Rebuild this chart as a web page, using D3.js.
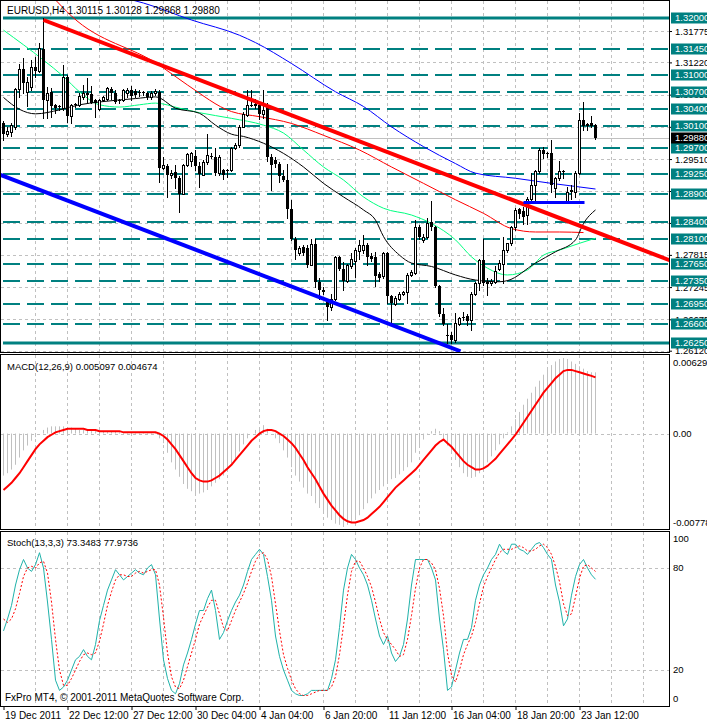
<!DOCTYPE html>
<html><head><meta charset="utf-8">
<script src="https://cdn.jsdelivr.net/npm/d3@7"></script>
<style>
body{margin:0;background:#fff}
svg{display:block}
text{font-family:"Liberation Sans",Arial,sans-serif;font-size:9.5px}
</style>
</head><body>
<svg id="c" width="707" height="723"></svg>
<script>
// ---------------- DATA ----------------
const barOpen=[1.3014,1.2996,1.2999,1.3008,1.3075,1.3110,1.3070,1.3079,1.3114,1.3107,
1.3145,1.3055,1.3070,1.3046,1.3043,1.3042,1.3097,1.3027,1.3046,1.3047,
1.3061,1.3067,1.3066,1.3055,1.3039,1.3056,1.3057,1.3075,1.3068,1.3053,
1.3056,1.3068,1.3073,1.3071,1.3067,1.3068,1.3067,1.3060,1.3067,1.3070,
1.2936,1.2939,1.2922,1.2928,1.2918,1.2890,1.2940,1.2947,1.2956,1.2939,
1.2923,1.2945,1.2957,1.2955,1.2926,1.2932,1.2931,1.2932,1.2970,1.2976,
1.3008,1.3029,1.3045,1.3048,1.3046,1.3031,1.3046,1.2954,1.2949,1.2943,
1.2921,1.2914,1.2862,1.2810,1.2785,1.2795,1.2793,1.2764,1.2800,1.2734,
1.2720,1.2701,1.2689,1.2704,1.2777,1.2757,1.2736,1.2762,1.2770,1.2789,
1.2790,1.2799,1.2779,1.2777,1.2748,1.2745,1.2784,1.2708,1.2695,1.2704,
1.2712,1.2715,1.2746,1.2749,1.2830,1.2807,1.2814,1.2839,1.2830,1.2726,
1.2677,1.2640,1.2640,1.2631,1.2660,1.2669,1.2673,1.2666,1.2713,1.2731,
1.2772,1.2734,1.2731,1.2734,1.2757,1.2766,1.2790,1.2802,1.2831,1.2862,
1.2860,1.2852,1.2881,1.2905,1.2929,1.2967,1.2961,1.2961,1.2899,1.2917,
1.2930,1.2876,1.2896,1.2893,1.2926,1.3020,1.3013,1.3014,1.30115];
const barHigh=[1.3018,1.3008,1.3014,1.3077,1.3120,1.3129,1.3097,1.3126,1.3132,1.3156,
1.3200,1.3079,1.3076,1.3049,1.3046,1.3117,1.3100,1.3048,1.3051,1.3067,
1.3082,1.3094,1.3080,1.3058,1.3057,1.3062,1.3079,1.3078,1.3073,1.3058,
1.3075,1.3077,1.3080,1.3075,1.3074,1.3072,1.3070,1.3071,1.3075,1.3073,
1.2955,1.2942,1.2931,1.2940,1.2921,1.2942,1.2962,1.2964,1.2967,1.2946,
1.2949,1.2996,1.2961,1.2970,1.2958,1.2933,1.2934,1.2973,1.2979,1.3011,
1.3035,1.3073,1.3074,1.3057,1.3049,1.3073,1.3050,1.2960,1.2955,1.2946,
1.2932,1.2943,1.2878,1.2813,1.2797,1.2799,1.2799,1.2810,1.2810,1.2740,
1.2725,1.2704,1.2713,1.2779,1.2779,1.2769,1.2766,1.2784,1.2793,1.2808,
1.2817,1.2802,1.2784,1.2787,1.2751,1.2787,1.2787,1.2711,1.2708,1.2715,
1.2718,1.2749,1.2755,1.2843,1.2835,1.2819,1.2846,1.2877,1.2833,1.2728,
1.2687,1.2660,1.2645,1.2679,1.2672,1.2681,1.2677,1.2716,1.2734,1.2775,
1.2809,1.2740,1.2738,1.2761,1.2772,1.2814,1.2803,1.2832,1.2864,1.2865,
1.2867,1.2884,1.2926,1.2932,1.2970,1.2972,1.2964,1.2985,1.2920,1.2948,
1.2932,1.2902,1.2905,1.2929,1.3032,1.3052,1.3014,1.3027,1.30128];
const barLow=[1.2985,1.2992,1.2992,1.3005,1.3060,1.3067,1.3044,1.3073,1.3097,1.3105,
1.3023,1.3023,1.3026,1.3032,1.3038,1.3038,1.3017,1.3015,1.3043,1.3044,
1.3058,1.3052,1.3050,1.3025,1.3038,1.3053,1.3056,1.3058,1.3051,1.3050,
1.3054,1.3060,1.3056,1.3060,1.3062,1.3065,1.3058,1.3057,1.3064,1.2911,
1.2934,1.2884,1.2917,1.2899,1.2857,1.2889,1.2938,1.2938,1.2932,1.2902,
1.2922,1.2943,1.2952,1.2923,1.2923,1.2915,1.2920,1.2929,1.2968,1.2973,
1.3007,1.3027,1.3044,1.3042,1.3021,1.3023,1.2948,1.2896,1.2937,1.2911,
1.2913,1.2846,1.2808,1.2775,1.2781,1.2781,1.2760,1.2763,1.2725,1.2703,
1.2713,1.2666,1.2684,1.2702,1.2755,1.2719,1.2734,1.2758,1.2743,1.2775,
1.2784,1.2763,1.2770,1.2726,1.2736,1.2740,1.2696,1.2660,1.2693,1.2701,
1.2710,1.2696,1.2744,1.2748,1.2810,1.2805,1.2812,1.2826,1.2724,1.2674,
1.2657,1.2625,1.2625,1.2628,1.2657,1.2666,1.2657,1.2648,1.2710,1.2719,
1.2728,1.2710,1.2728,1.2732,1.2755,1.2732,1.2787,1.2799,1.2825,1.2846,
1.2837,1.2837,1.2873,1.2873,1.2927,1.2952,1.2955,1.2893,1.2884,1.2914,
1.2917,1.2873,1.2881,1.2884,1.2925,1.3002,1.3002,1.3007,1.29868];
const barClose=[1.2996,1.3001,1.3011,1.3075,1.3110,1.3085,1.3088,1.3113,1.3106,1.3147,
1.3055,1.3068,1.3044,1.3041,1.3044,1.3097,1.3027,1.3046,1.3048,1.3062,
1.3067,1.3064,1.3051,1.3050,1.3055,1.3060,1.3076,1.3067,1.3052,1.3056,
1.3073,1.3074,1.3063,1.3064,1.3070,1.3069,1.3060,1.3068,1.3071,1.2936,
1.2940,1.2923,1.2927,1.2917,1.2890,1.2940,1.2960,1.2961,1.2938,1.2925,
1.2945,1.2958,1.2955,1.2926,1.2954,1.2923,1.2932,1.2970,1.2976,1.3008,
1.3031,1.3047,1.3047,1.3044,1.3031,1.3038,1.2954,1.2940,1.2942,1.2921,
1.2914,1.2862,1.2810,1.2791,1.2793,1.2785,1.2763,1.2800,1.2734,1.2719,
1.2716,1.2690,1.2704,1.2777,1.2757,1.2736,1.2763,1.2774,1.2790,1.2799,
1.2799,1.2777,1.2775,1.2745,1.2740,1.2784,1.2708,1.2696,1.2705,1.2712,
1.2716,1.2746,1.2752,1.2830,1.2813,1.2813,1.2838,1.2831,1.2726,1.2677,
1.2660,1.2640,1.2631,1.2661,1.2669,1.2671,1.2665,1.2713,1.2731,1.2772,
1.2731,1.2730,1.2736,1.2753,1.2767,1.2791,1.2802,1.2831,1.2861,1.2854,
1.2848,1.2881,1.2905,1.2929,1.2967,1.2960,1.2960,1.2905,1.2917,1.2930,
1.2928,1.2893,1.2893,1.2926,1.3020,1.3009,1.3009,1.3009,1.29880];

// moving averages: [bar, price]
const maBlue=[[24,1.3245],[35,1.3227],[47,1.3197],[59,1.3170],[63,1.3157],[72,1.3120],[83,1.3070],[90,1.3044],[97,1.3008],[105,1.2973],[113,1.2943],[118,1.2926],[128,1.2917],[137,1.2908],[148,1.2898]];
const maRed=[[12,1.3240],[17,1.3204],[39,1.3117],[46,1.3082],[57,1.3035],[64,1.3026],[72,1.3014],[80,1.2993],[89,1.2967],[97,1.2937],[105,1.2908],[113,1.2879],[120,1.2855],[127,1.2828],[133,1.2822],[139,1.2822],[145,1.2821]];
const maGreen=[[0,1.3179],[10,1.3126],[15,1.3097],[19,1.3070],[24,1.3047],[29,1.3043],[34,1.3047],[38,1.3050],[44,1.3041],[49,1.3033],[57,1.3023],[65,1.3011],[70,1.2997],[75,1.2967],[80,1.2937],[85,1.2914],[90,1.2884],[95,1.2864],[102,1.2852],[107,1.2837],[113,1.2808],[117,1.2778],[121,1.2758],[126,1.2746],[131,1.2755],[135,1.2781],[139,1.2790],[144,1.2802],[148,1.2811]];
const maBlack=[[0,1.3060],[4,1.3039],[8,1.3031],[14,1.3038],[19,1.3047],[24,1.3052],[33,1.3058],[38,1.3061],[43,1.3041],[49,1.3032],[53,1.3011],[57,1.2995],[60,1.2991],[65,1.2979],[70,1.2961],[75,1.2937],[80,1.2908],[85,1.2884],[90,1.2861],[93,1.2843],[95,1.2814],[99,1.2781],[102,1.2767],[107,1.2761],[113,1.2746],[118,1.2737],[124,1.2734],[126,1.2736],[133,1.2767],[138,1.2787],[143,1.2808],[145,1.2837],[148,1.2861]];

// drawn objects: [bar, price]
const trendRed=[[10,1.3197],[166.5,1.2772]];
const trendBlue=[[-0.75,1.2923],[114.25,1.2611]];
const supportBlue=[[130,1.2874],[145.25,1.2874]];

const levelPrices=[1.3200,1.3145,1.3100,1.3070,1.3040,1.3010,1.2970,1.2925,1.2890,1.2840,1.2810,1.2765,1.2735,1.2695,1.2660,1.2625];
const solidLevels=[1.3200,1.2625];
const gridPrices=[1.31775,1.31220,1.30650,1.30080,1.29510,1.28945,1.28380,1.27815,1.27245,1.26675,1.26120];
const lastPrice=1.29880;

const macdMain=[-35,-33,-30,-26,-20,-14,-10,-6,-3,
0,3,5,6,6,6,6,5,5,4,
3,3,3,2,2,2,2,2,2,2,1,1,1,1,1,1,1,1,1,
1,-4,-8,-16,-24,-30,-36,-42,-46,-48,-50,-50,-49,-47,-44,-41,
-38,-35,-31,-26,-21,-15,-9,-4,0,3,5,7,4,0,-4,-8,
-14,-20,-28,-35,-40,-45,-50,-52,-58,-62,-66,-70,-72,-75,-76,-77.8,-76,-74,
-72,-68,-63,-58,-54,-50,-47,-44,-40,-38,-37,-34,-31,-28,-24,-16,-10,
-5,-1,2,4,2,-4,-10,-15,
-22,-28,-33,-36,-37,-36,-33,-29,-24,-19,-14,
-9,-4,1,6,12,18,24,29,34,39,44,49,53,57,60,62,62.9,62,60,58,56,54,52,51,50.97].map(v=>v/10000);
const macdSignal=[-47,-44,-41,-37,-33,-28,-23,-18,-13,
-9,-6,-3,-1,1,2,3,4,4,4,
4,4,3,3,3,2,2,2,2,2,2,1,1,1,1,1,1,1,1,
1,0,-2,-5,-9,-13,-18,-23,-28,-33,-37,-39,-40,-40,-39,-37,
-35,-32,-29,-26,-22,-18,-14,-10,-6,-3,0,2,3,3,2,0,
-2,-5,-8,-12,-17,-22,-28,-33,-38,-44,-50,-55,-60,-64,-68,-71,-73,-74,
-74,-73,-72,-70,-67,-64,-61,-57,-53,-49,-45,-42,-39,-36,-33,-30,-26,
-22,-18,-14,-10,-7,-5,-8,-11,
-15,-19,-23,-26,-28,-30,-30,-29,-27,-24,-21,
-17,-13,-9,-5,-1,4,9,14,19,24,29,34,38,42,46,49,52,53,53,52,51,50,49,48,46.74].map(v=>v/10000);

const stochMain=[43,50,58,70,79,85,80,78,82,89,
80,60,38,14,8,10,14,20,26,28,
32,28,26,35,49,58,67,73,79,76,
73,75,77,79,77,76,80,82,76,50,
26,15,8,6,12,23,30,38,47,55,
55,62,67,55,38,42,49,55,60,64,
70,78,85,88,91,88,75,61,40,28,
20,14,8,6,5,5,6,8,8,8,
8,8,15,26,45,67,80,88,85,80,
76,70,61,50,40,35,40,30,25,28,
35,50,70,85,85,85,85,80,73,50,
32,8,10,20,30,38,38,45,61,70,
76,80,85,88,94,90,88,94,94,91,
90,88,91,94,95,92,88,85,70,60,
46,50,64,75,82,85,80,76,73.35];
const stochSignal=[50,48,50,56,65,75,80,81,80,83,
84,77,60,38,20,11,11,15,20,25,
29,30,29,30,37,47,58,66,73,76,
76,75,75,77,78,77,78,79,79,70,
51,30,16,10,9,14,22,30,38,47,
52,57,61,61,53,45,43,49,55,60,
65,71,78,84,88,89,85,75,59,43,
29,21,14,9,6,5,5,6,7,8,
8,8,10,16,29,46,64,78,84,84,
80,75,69,60,50,42,38,35,32,28,
29,38,52,68,80,85,85,83,79,68,
52,30,17,13,20,29,35,40,48,59,
69,75,80,85,89,91,91,91,92,93,
92,90,90,91,93,94,92,88,81,72,
59,52,53,63,74,81,82,80,77.97];
const stochLevels=[20,80];
const stochLabels=[100,80,20,0];

const timeLabels=["19 Dec 2011","22 Dec 12:00","27 Dec 12:00","30 Dec 04:00","4 Jan 04:00","6 Jan 20:00","11 Jan 12:00","16 Jan 04:00","18 Jan 20:00","23 Jan 12:00"];
const timeTickBars=[0,16,32,48,64,80,96,112,128,144];
const gridBars=d3.range(8,168,8);

// ---------------- LAYOUT ----------------
const svg=d3.select("#c");
const R=669;
const main={top:1,bot:352}, mp={top:355,bot:529}, sp={top:532,bot:706};
const x=d3.scaleLinear().domain([0,148]).range([3.5,595.5]);
const y=d3.scaleLinear().domain([1.26097,1.32306]).range([main.bot,main.top]);
const ym=d3.scaleLinear().domain([-0.00778,0.00629]).range([527,358]);
const ys=d3.scaleLinear().domain([0,100]).range([704,534]);
const teal="#008080", grid="#c0c0c0";

const defs=svg.append("defs");
[["cm",main],["cmacd",mp],["cst",sp]].forEach(([id,p])=>{
  defs.append("clipPath").attr("id",id).append("rect").attr("x",1).attr("y",p.top).attr("width",R-1).attr("height",p.bot-p.top);
});

[main,mp,sp].forEach(p=>{
  svg.append("g").selectAll("line").data(gridBars).join("line")
    .attr("x1",d=>x(d)).attr("x2",d=>x(d)).attr("y1",p.top).attr("y2",p.bot)
    .attr("stroke",grid).attr("stroke-dasharray","3,3");
});

// ---- main pane ----
const gm=svg.append("g").attr("clip-path","url(#cm)");
gm.selectAll(".hg").data(gridPrices).join("line")
  .attr("x1",1).attr("x2",R).attr("y1",d=>Math.round(y(d))+0.5).attr("y2",d=>Math.round(y(d))+0.5)
  .attr("stroke",grid).attr("stroke-dasharray","3,3");
gm.selectAll(".lv").data(levelPrices).join("line")
  .attr("x1",3).attr("x2",R).attr("y1",d=>Math.round(y(d))).attr("y2",d=>Math.round(y(d)))
  .attr("stroke",teal).attr("stroke-width",d=>solidLevels.includes(d)?3:2)
  .attr("stroke-dasharray",d=>solidLevels.includes(d)?null:"17,7");
gm.append("line").attr("x1",1).attr("x2",R).attr("y1",Math.round(y(lastPrice))+0.5).attr("y2",Math.round(y(lastPrice))+0.5).attr("stroke",grid);

const maLine=d3.line().x(d=>x(d[0])).y(d=>y(d[1])).curve(d3.curveMonotoneX);
[[maBlue,"#0000ff"],[maRed,"#ff0000"],[maGreen,"#00ff7f"],[maBlack,"#000000"]].forEach(([d,c])=>{
  gm.append("path").attr("d",maLine(d)).attr("fill","none").attr("stroke",c).attr("stroke-width",1);
});

const bars=d3.range(barOpen.length).map(i=>({i,o:barOpen[i],h:barHigh[i],l:barLow[i],c:barClose[i]}));
const cg=gm.append("g");
cg.selectAll(".wk").data(bars).join("line")
  .attr("x1",d=>x(d.i)).attr("x2",d=>x(d.i)).attr("y1",d=>Math.round(y(d.h))).attr("y2",d=>Math.round(y(d.l))+1)
  .attr("stroke","#000");
cg.selectAll(".bd").data(bars).join("rect")
  .each(function(d){
    const t=Math.round(y(Math.max(d.o,d.c))), b=Math.round(y(Math.min(d.o,d.c)));
    const s=d3.select(this);
    if(d.c>d.o && b-t>=2){
      s.attr("x",x(d.i)-1).attr("y",t+0.5).attr("width",2).attr("height",b-t).attr("fill","#fff").attr("stroke","#000");
    } else {
      s.attr("x",x(d.i)-1.5).attr("y",t).attr("width",3).attr("height",Math.max(b-t,1)).attr("fill","#000");
    }
  });

const tl=d3.line().x(d=>x(d[0])).y(d=>y(d[1]));
gm.append("path").attr("d",tl(trendRed)).attr("stroke","#ff0000").attr("stroke-width",4).attr("fill","none");
gm.append("path").attr("d",tl(trendBlue)).attr("stroke","#0000ff").attr("stroke-width",4).attr("fill","none");
gm.append("path").attr("d",tl(supportBlue)).attr("stroke","#0000ff").attr("stroke-width",3).attr("fill","none");

svg.append("text").attr("x",7).attr("y",14).style("font-size","10px").text("EURUSD,H4  1.30115 1.30128 1.29868 1.29880");

// price axis
const pa=svg.append("g").attr("transform",`translate(${R},0)`)
  .call(d3.axisRight(y).tickValues(gridPrices).tickSize(3).tickFormat(d3.format(".5f")));
pa.select(".domain").remove();
pa.selectAll("text").attr("x",6).style("font-family","Liberation Sans").style("font-size","9.5px");
const lb=svg.append("g").selectAll("g").data(levelPrices).join("g").attr("transform",d=>`translate(${R+2},${Math.round(y(d))})`);
lb.append("rect").attr("x",0).attr("y",-5.5).attr("width",40).attr("height",11).attr("fill",teal);
lb.append("text").attr("x",4).attr("dy","0.35em").attr("fill","#fff").text(d=>d3.format(".5f")(d));
const lp=svg.append("g").attr("transform",`translate(${R+2},${Math.round(y(lastPrice))})`);
lp.append("rect").attr("x",0).attr("y",-5.5).attr("width",40).attr("height",11).attr("fill","#000");
lp.append("text").attr("x",4).attr("dy","0.35em").attr("fill","#fff").text(d3.format(".5f")(lastPrice));

// ---- MACD pane ----
const gmac=svg.append("g").attr("clip-path","url(#cmacd)");
gmac.append("line").attr("x1",1).attr("x2",R).attr("y1",Math.round(ym(0))+0.5).attr("y2",Math.round(ym(0))+0.5).attr("stroke",grid).attr("stroke-dasharray","3,3");
gmac.selectAll(".h").data(macdMain).join("line")
  .attr("x1",(d,i)=>x(i)).attr("x2",(d,i)=>x(i)).attr("y1",ym(0)).attr("y2",d=>ym(d)).attr("stroke",grid);
gmac.append("path").attr("d",d3.line().x((d,i)=>x(i)).y(d=>ym(d))(macdSignal)).attr("fill","none").attr("stroke","#ff0000").attr("stroke-width",2);
svg.append("text").attr("x",7).attr("y",370).text("MACD(12,26,9) 0.005097 0.004674");
const macdTicks=[0.00629,0,-0.00778];
svg.append("g").selectAll("text").data(macdTicks).join("text")
  .attr("x",R+4).attr("y",(d,i)=>[mp.top+11,ym(0)+3,mp.bot-3][i]).text((d,i)=>["0.00629","0.00","-0.00778"][i]);

// ---- Stoch pane ----
const gst=svg.append("g").attr("clip-path","url(#cst)");
gst.selectAll(".sl").data(stochLevels).join("line")
  .attr("x1",1).attr("x2",R).attr("y1",d=>Math.round(ys(d))+0.5).attr("y2",d=>Math.round(ys(d))+0.5)
  .attr("stroke",grid).attr("stroke-dasharray","3,3");
const sline=d3.line().x((d,i)=>x(i)).y(d=>ys(d));
gst.append("path").attr("d",sline(stochMain)).attr("fill","none").attr("stroke","#20b2aa").attr("stroke-width",1);
gst.append("path").attr("d",sline(stochSignal)).attr("fill","none").attr("stroke","#ff0000").attr("stroke-width",1).attr("stroke-dasharray","2,2");
svg.append("text").attr("x",7).attr("y",546).text("Stoch(13,3,3) 73.3483 77.9736");
svg.append("g").selectAll("text").data(stochLabels).join("text")
  .attr("x",R+4).attr("y",d=>Math.min(Math.max(ys(d)+3,sp.top+10),sp.bot-4)).text(d=>d);
svg.append("text").attr("x",5).attr("y",701).style("font-size","10px").text("FxPro MT4, © 2001-2011 MetaQuotes Software Corp.");

// ---- time axis ----
const ta=svg.append("g").attr("transform",`translate(0,${sp.bot})`)
  .call(d3.axisBottom(x).tickValues(timeTickBars).tickSize(4).tickFormat((d,i)=>timeLabels[i]));
ta.select(".domain").remove();
ta.selectAll("text").attr("text-anchor","start").attr("x",1).attr("y",6).attr("dy","0.71em").style("font-family","Liberation Sans").style("font-size","10px");

[main,mp,sp].forEach(p=>{
  svg.append("rect").attr("x",0.5).attr("y",p.top-0.5).attr("width",R).attr("height",p.bot-p.top+1).attr("fill","none").attr("stroke","#000");
});
</script>
</body></html>
